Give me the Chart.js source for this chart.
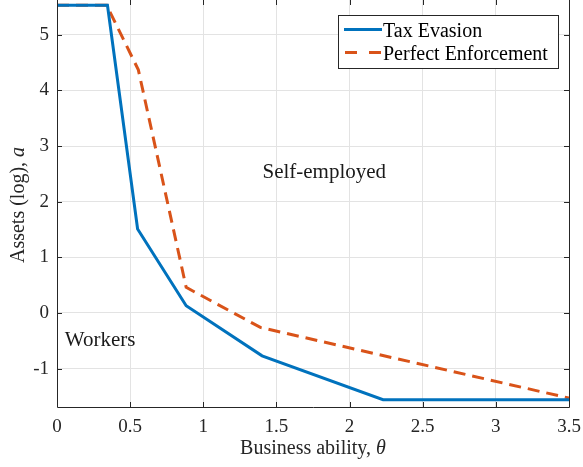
<!DOCTYPE html>
<html>
<head>
<meta charset="utf-8">
<script src="https://cdn.jsdelivr.net/npm/chart.js@4/dist/chart.umd.min.js"></script>
<style>
  body { margin: 0; background: #fff; }
  #wrap { width: 583px; height: 467px; }
</style>
</head>
<body>
<div id="wrap"><canvas id="myChart"></canvas></div>
<script>
// tax evasion boundary
const evasionTheta = [0, 0.345, 0.551, 0.883, 1.402, 2.229, 3.5];
const evasionAssets = [5.53, 5.53, 1.51, 0.13, -0.77, -1.56, -1.56];
// perfect enforcement boundary
const enforceTheta = [0, 0.34, 0.556, 0.883, 1.39, 3.5];
const enforceAssets = [5.53, 5.53, 4.37, 0.46, -0.26, -1.53];

const xTicks = [0, 0.5, 1, 1.5, 2, 2.5, 3, 3.5];
const yTicks = [-1, 0, 1, 2, 3, 4, 5];
const seriesNames = ["Tax Evasion", "Perfect Enforcement"];

const SERIF = "'Liberation Serif', 'Times New Roman', serif";
const BLUE = "#0072BD";
const ORANGE = "#D95319";
const AXIS = "#262626";

function pairs(xs, ys) {
  return xs.map((x, i) => ({ x: x, y: ys[i] }));
}

// frame, inward ticks, axis titles, region labels, legend
const decor = {
  id: "decor",
  afterDraw(chart) {
    let ctx = chart.ctx;
    let a = chart.chartArea;
    let xs = chart.scales.x;
    let ys = chart.scales.y;
    ctx.save();
    ctx.strokeStyle = AXIS;
    ctx.lineWidth = 1;
    ctx.beginPath();
    ctx.moveTo(a.left + 0.5, a.top);
    ctx.lineTo(a.left + 0.5, a.bottom + 0.5);
    ctx.lineTo(a.right + 0.5, a.bottom + 0.5);
    ctx.lineTo(a.right + 0.5, a.top);
    ctx.stroke();
    ctx.beginPath();
    xTicks.forEach((v) => {
      let px = Math.round(xs.getPixelForValue(v)) + 0.5;
      ctx.moveTo(px, a.bottom); ctx.lineTo(px, a.bottom - 5);
      ctx.moveTo(px, a.top); ctx.lineTo(px, a.top + 5);
    });
    yTicks.forEach((v) => {
      let py = Math.round(ys.getPixelForValue(v)) + 0.5;
      ctx.moveTo(a.left, py); ctx.lineTo(a.left + 5, py);
      ctx.moveTo(a.right, py); ctx.lineTo(a.right - 5, py);
    });
    ctx.stroke();

    ctx.fillStyle = "#262626";
    ctx.textBaseline = "alphabetic";

    // x title
    let cx = (a.left + a.right) / 2;
    ctx.font = "20px " + SERIF;
    let t1 = "Business ability, ";
    let w1 = ctx.measureText(t1).width;
    ctx.font = "italic 20px " + SERIF;
    let w2 = ctx.measureText("\u03b8").width;
    let sx = cx - (w1 + w2) / 2;
    ctx.font = "20px " + SERIF;
    ctx.textAlign = "left";
    ctx.fillText(t1, sx, 454);
    ctx.font = "italic 20px " + SERIF;
    ctx.fillText("\u03b8", sx + w1, 454);

    // y title
    ctx.save();
    ctx.translate(24, 205);
    ctx.rotate(-Math.PI / 2);
    ctx.font = "20px " + SERIF;
    let t3 = "Assets (log), ";
    let w3 = ctx.measureText(t3).width;
    ctx.font = "italic 20px " + SERIF;
    let w4 = ctx.measureText("a").width;
    let sy = -(w3 + w4) / 2;
    ctx.font = "20px " + SERIF;
    ctx.fillText(t3, sy, 0);
    ctx.font = "italic 20px " + SERIF;
    ctx.fillText("a", sy + w3, 0);
    ctx.restore();

    // region labels
    ctx.font = "21px " + SERIF;
    ctx.fillStyle = "#1a1a1a";
    ctx.textAlign = "center";
    ctx.fillText("Self-employed", xs.getPixelForValue(1.827), ys.getPixelForValue(2.42));
    ctx.textAlign = "left";
    ctx.fillText("Workers", xs.getPixelForValue(0.053), ys.getPixelForValue(-0.59));

    // legend
    let bx = 338.5, by = 15.5, bw = 220, bh = 53;
    ctx.fillStyle = "#fff";
    ctx.fillRect(bx, by, bw, bh);
    ctx.strokeStyle = AXIS;
    ctx.lineWidth = 1;
    ctx.strokeRect(bx, by, bw, bh);
    ctx.lineWidth = 3;
    ctx.strokeStyle = BLUE;
    ctx.setLineDash([]);
    ctx.beginPath(); ctx.moveTo(344, 29.5); ctx.lineTo(382, 29.5); ctx.stroke();
    ctx.strokeStyle = ORANGE;
    ctx.setLineDash([12, 12]);
    ctx.beginPath(); ctx.moveTo(345, 52.5); ctx.lineTo(382, 52.5); ctx.stroke();
    ctx.setLineDash([]);
    ctx.font = "20px " + SERIF;
    ctx.fillStyle = "#000";
    ctx.textAlign = "left";
    ctx.fillText(seriesNames[0], 383, 37);
    ctx.fillText(seriesNames[1], 383, 60);
    ctx.restore();
  },
};

new Chart("myChart", {
  type: "line",
  data: {
    datasets: [
      {
        label: seriesNames[0],
        data: pairs(evasionTheta, evasionAssets),
        borderColor: BLUE,
        borderWidth: 3,
        pointRadius: 0,
        fill: false,
        tension: 0,
      },
      {
        label: seriesNames[1],
        data: pairs(enforceTheta, enforceAssets),
        borderColor: ORANGE,
        borderWidth: 3,
        borderDash: [12, 7],
        pointRadius: 0,
        fill: false,
        tension: 0,
      },
    ],
  },
  options: {
    responsive: true,
    maintainAspectRatio: false,
    animation: false,
    layout: { padding: { left: 0, right: 14, top: 0, bottom: 0 } },
    plugins: {
      legend: { display: false },
      tooltip: { enabled: false },
    },
    scales: {
      x: {
        type: "linear",
        min: 0,
        max: 3.5,
        afterBuildTicks: (s) => { s.ticks = xTicks.map((v) => ({ value: v })); },
        afterFit: (s) => { s.height = 60; s.paddingLeft = 0; s.paddingRight = 0; },
        grid: { color: "#e3e3e3", drawTicks: false },
        border: { display: false },
        ticks: {
          padding: 9,
          color: "#262626",
          font: { family: SERIF, size: 19 },
          callback: (v) => String(v),
          maxRotation: 0,
        },
      },
      y: {
        min: -1.69,
        max: 5.625,
        afterBuildTicks: (s) => { s.ticks = yTicks.map((v) => ({ value: v })); },
        afterFit: (s) => { s.width = 57; s.paddingTop = 0; s.paddingBottom = 0; },
        grid: { color: "#e3e3e3", drawTicks: false },
        border: { display: false },
        ticks: {
          padding: 8,
          color: "#262626",
          font: { family: SERIF, size: 19 },
          callback: (v) => String(v),
        },
      },
    },
  },
  plugins: [decor],
});
</script>
</body>
</html>
